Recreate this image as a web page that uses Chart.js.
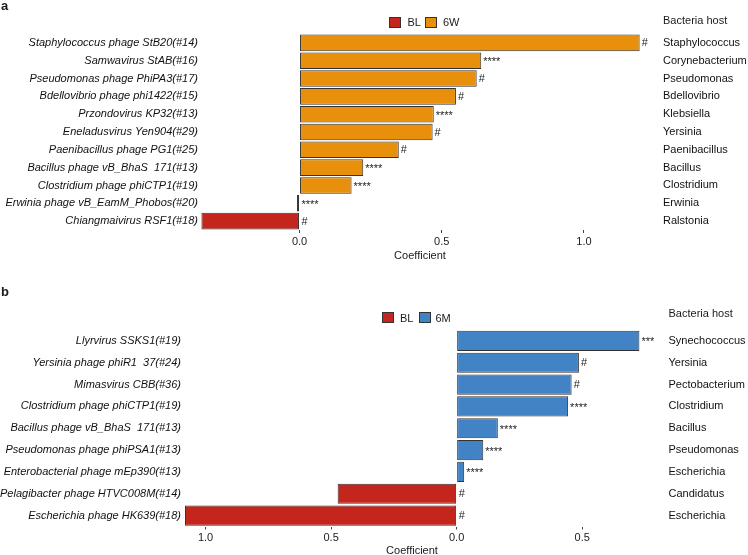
<!DOCTYPE html>
<html><head><meta charset="utf-8">
<script src="https://cdn.jsdelivr.net/npm/chart.js@4.4.0/dist/chart.umd.min.js"></script>
<style>
html,body{margin:0;padding:0;background:#fff;}
body{width:748px;height:555px;position:relative;overflow:hidden;font-family:"Liberation Sans",Arial,sans-serif;color:#1a1a1a;}
canvas{position:absolute;left:0;}
.t{position:absolute;white-space:nowrap;font-size:11px;line-height:1;transform:translateY(-50%);}
.c{transform:translate(-50%,-50%);}
.box{position:absolute;width:12px;height:11px;box-sizing:border-box;border:1px solid #333;}
.pl{position:absolute;font-weight:bold;font-size:13px;line-height:1;}
</style></head><body>
<canvas id="ca" width="748" height="270" style="top:0"></canvas>
<canvas id="cb" width="748" height="285" style="top:270px"></canvas>

<div class="pl" style="left:1px;top:-1px">a</div>
<div class="pl" style="left:1px;top:285px">b</div>

<div class="box" style="left:389px;top:16.5px;background:#C4261D"></div>
<div class="t" style="left:407.5px;top:22px">BL</div>
<div class="box" style="left:425px;top:16.5px;background:#E88F0C"></div>
<div class="t" style="left:443px;top:22px">6W</div>
<div class="t" style="left:663px;top:20px">Bacteria host</div>
<div class="t c" style="left:420px;top:255px">Coefficient</div>

<div class="box" style="left:382px;top:311.5px;background:#C4261D"></div>
<div class="t" style="left:400px;top:317.5px">BL</div>
<div class="box" style="left:418.5px;top:311.5px;background:#4283C6"></div>
<div class="t" style="left:435.5px;top:317.5px">6M</div>
<div class="t" style="left:668.5px;top:313px">Bacteria host</div>
<div class="t c" style="left:412px;top:550px">Coefficient</div>

<script>
// ---- Panel a data ----
const phagesA = [
  "Staphylococcus phage StB20(#14)",
  "Samwavirus StAB(#16)",
  "Pseudomonas phage PhiPA3(#17)",
  "Bdellovibrio phage phi1422(#15)",
  "Przondovirus KP32(#13)",
  "Eneladusvirus Yen904(#29)",
  "Paenibacillus phage PG1(#25)",
  "Bacillus phage vB_BhaS  171(#13)",
  "Clostridium phage phiCTP1(#19)",
  "Erwinia phage vB_EamM_Phobos(#20)",
  "Chiangmaivirus RSF1(#18)"
];
const hostsA = ["Staphylococcus","Corynebacterium","Pseudomonas","Bdellovibrio","Klebsiella","Yersinia","Paenibacillus","Bacillus","Clostridium","Erwinia","Ralstonia"];
const coefA = [1.196, 0.639, 0.623, 0.550, 0.472, 0.468, 0.349, 0.224, 0.183, -0.009, -0.345];
const sigA = ["#","****","#","#","****","#","#","****","****","****","#"];
const ticksA = [0, 0.5, 1.0];

// ---- Panel b data ----
const phagesB = [
  "Llyrvirus SSKS1(#19)",
  "Yersinia phage phiR1  37(#24)",
  "Mimasvirus CBB(#36)",
  "Clostridium phage phiCTP1(#19)",
  "Bacillus phage vB_BhaS  171(#13)",
  "Pseudomonas phage phiPSA1(#13)",
  "Enterobacterial phage mEp390(#13)",
  "Pelagibacter phage HTVC008M(#14)",
  "Escherichia phage HK639(#18)"
];
const hostsB = ["Synechococcus","Yersinia","Pectobacterium","Clostridium","Bacillus","Pseudomonas","Escherichia","Candidatus","Escherichia"];
const coefB = [0.728, 0.487, 0.458, 0.444, 0.164, 0.106, 0.030, -0.474, -1.082];
const sigB = ["***","#","#","****","****","****","****","#","#"];
const ticksB = [-1.0, -0.5, 0, 0.5];

const RED = "#C4261D", ORANGE = "#E88F0C", BLUE = "#4283C6";
const FAM = '"Liberation Sans", Arial, sans-serif';

const sigPlugin = {
  id: "sig",
  afterDatasetsDraw(chart, args, opts) {
    const ctx = chart.ctx, x = chart.scales.x, y = chart.scales.y;
    ctx.save();
    ctx.fillStyle = "#222";
    ctx.textBaseline = "middle";
    ctx.textAlign = "left";
    opts.values.forEach((v, i) => {
      const s = opts.sig[i];
      const px = x.getPixelForValue(Math.max(v, 0)) + 2;
      const py = y.getPixelForValue(i);
      ctx.font = "11px " + FAM;
      if (s[0] === "#") ctx.fillText(s, px, py + 0.5);
      else ctx.fillText(s, px, py + 1.5);
    });
    ctx.restore();
  }
};

function makeChart(id, c) {
  return new Chart(document.getElementById(id), {
    type: "bar",
    data: {
      labels: c.labels,
      datasets: [
        { label: "BL", data: c.values.map(v => v < 0 ? v : null), backgroundColor: RED },
        { label: c.posName, data: c.values.map(v => v >= 0 ? v : null), backgroundColor: c.posColor }
      ].map(d => Object.assign(d, {
        grouped: false, borderColor: "#333", borderWidth: 1, borderSkipped: false,
        barPercentage: c.barPct, categoryPercentage: 1
      }))
    },
    options: {
      indexAxis: "y",
      responsive: false,
      animation: false,
      devicePixelRatio: 1,
      layout: { padding: { top: c.padTop, bottom: 0, left: 0, right: 0 } },
      plugins: {
        legend: { display: false },
        tooltip: { enabled: false },
        sig: { values: c.values, sig: c.sig }
      },
      scales: {
        x: {
          type: "linear", min: c.min, max: c.max,
          afterBuildTicks: s => { s.ticks = c.ticks.map(v => ({ value: v })); },
          ticks: { callback: v => Math.abs(v).toFixed(1), font: { family: FAM, size: 11 }, color: "#222", padding: 2, maxRotation: 0, autoSkip: false },
          grid: { drawOnChartArea: false, drawTicks: true, tickLength: 3, color: "#444", lineWidth: 1 },
          border: { display: false },
          afterFit: s => { s.height = c.axisH; }
        },
        y: {
          type: "category", position: "left",
          ticks: { font: { family: FAM, size: 11, style: "italic" }, color: "#111", padding: 2, autoSkip: false },
          grid: { display: false, drawTicks: false },
          border: { display: false },
          afterFit: s => { s.width = c.leftW; }
        },
        y2: {
          type: "category", position: "right", labels: c.hosts, offset: true,
          ticks: { font: { family: FAM, size: 11 }, color: "#111", padding: c.rightPad, autoSkip: false },
          grid: { display: false, drawTicks: false },
          border: { display: false },
          afterFit: s => { s.width = c.rightW; }
        }
      }
    },
    plugins: [sigPlugin]
  });
}

makeChart("ca", {
  labels: phagesA, hosts: hostsA, values: coefA, sig: sigA, ticks: ticksA,
  min: -0.35, max: 1.25, leftW: 200, rightW: 93, rightPad: 8,
  padTop: 34, axisH: 40, barPct: 0.93, posName: "6W", posColor: ORANGE
});
makeChart("cb", {
  labels: phagesB, hosts: hostsB, values: coefB, sig: sigB, ticks: ticksB,
  min: -1.09, max: 0.81, leftW: 183, rightW: 88, rightPad: 8.5,
  padTop: 60, axisH: 28.5, barPct: 0.925, posName: "6M", posColor: BLUE
});
</script>
</body></html>
